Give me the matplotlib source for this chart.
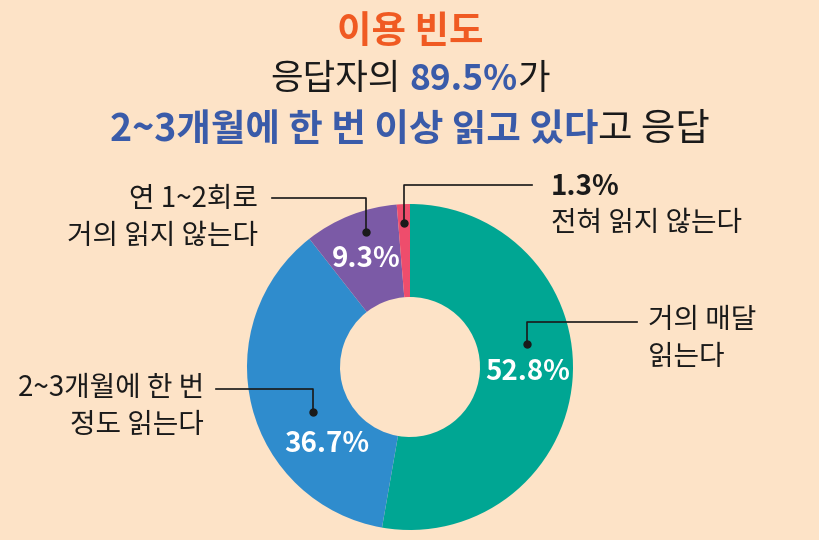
import numpy as np
import matplotlib.pyplot as plt

plt.rcParams['font.family'] = ['Noto Sans CJK KR', 'DejaVu Sans']

# data
values = [52.8, 36.7, 9.3, 1.3]
colors = ['#00A693', '#2F8CCD', '#7B5AA6', '#EE4D6C']
pct_labels = ['52.8%', '36.7%', '9.3%', '']
cat_lines = [['거의 매달', '읽는다'],
             ['2~3개월에 한 번', '정도 읽는다'],
             ['연 1~2회로', '거의 읽지 않는다'],
             ['1.3%', '전혀 읽지 않는다']]

BG = '#FDE3C7'
BLUE = '#3A5BA9'
ORANGE = '#F05A22'

fig = plt.figure(figsize=(8.2, 5.4), dpi=100, facecolor=BG)
ax = fig.add_axes([0, 0, 1, 1])
ax.set_facecolor(BG)


def Y(y):
    # image row -> plot y
    return 540 - y


# donut
cx, cy, r_out, r_in = 410, 367, 163, 70
ax.pie(values, colors=colors, startangle=90, counterclock=False,
       center=(cx, Y(cy)), radius=r_out, frame=True,
       wedgeprops=dict(width=r_out - r_in, linewidth=0))
ax.set_xlim(0, 820)
ax.set_ylim(0, 540)
ax.axis('off')

# percent labels inside the ring
pct_pos = [(528, 372), (327, 444), (366, 259)]
for lab, (px, py) in zip(pct_labels, pct_pos):
    ax.text(px, Y(py), lab, color='white', fontsize=20, fontweight='bold',
            ha='center', va='center')

# title lines
ax.text(410, Y(31), '이용 빈도', color=ORANGE, fontsize=27, fontweight='bold',
        ha='center', va='center')

renderer = fig.canvas.get_renderer()


def mixed_line(pieces, y, size):
    objs = []
    x = 0
    for txt, col, wt, gap in pieces:
        x += gap
        t = ax.text(x, Y(y), txt, color=col, fontsize=size, fontweight=wt,
                    ha='left', va='center')
        w = t.get_window_extent(renderer).width
        objs.append((t, x))
        x += w
    off = 410 - x / 2
    for t, x0 in objs:
        t.set_x(x0 + off)


mixed_line([('응답자의', '#1a1a1a', 'normal', 0),
            ('89.5%', BLUE, 'bold', 9),
            ('가', '#1a1a1a', 'normal', 0)], 79, 25.5)
mixed_line([('2~3개월에 한 번 이상 읽고 있다', BLUE, 'bold', 0),
            ('고 응답', '#1a1a1a', 'normal', 0)], 129, 27)

# category labels
lsz = 20
tc = '#1a1a1a'
# 52.8%
ax.text(648, Y(320), cat_lines[0][0], fontsize=lsz, color=tc, ha='left', va='center')
ax.text(648, Y(357), cat_lines[0][1], fontsize=lsz, color=tc, ha='left', va='center')
ax.plot([637, 527, 527], [Y(322), Y(322), Y(344)], color=tc, lw=1.2)
ax.plot(527, Y(344), 'o', color=tc, ms=5)
# 36.7%
ax.text(204, Y(388), cat_lines[1][0], fontsize=lsz, color=tc, ha='right', va='center')
ax.text(204, Y(425), cat_lines[1][1], fontsize=lsz, color=tc, ha='right', va='center')
ax.plot([216, 313, 313], [Y(389), Y(389), Y(412)], color=tc, lw=1.2)
ax.plot(313, Y(412), 'o', color=tc, ms=5)
# 9.3%
ax.text(258, Y(199), cat_lines[2][0], fontsize=lsz, color=tc, ha='right', va='center')
ax.text(258, Y(236), cat_lines[2][1], fontsize=lsz, color=tc, ha='right', va='center')
ax.plot([272, 366, 366], [Y(198), Y(198), Y(232)], color=tc, lw=1.2)
ax.plot(366, Y(232), 'o', color=tc, ms=5)
# 1.3%
ax.text(551, Y(187), cat_lines[3][0], fontsize=lsz, color=tc, fontweight='bold',
        ha='left', va='center')
ax.text(551, Y(223), cat_lines[3][1], fontsize=lsz, color=tc, ha='left', va='center')
ax.plot([532, 404, 404], [Y(185), Y(185), Y(223)], color=tc, lw=1.2)
ax.plot(404, Y(223), 'o', color=tc, ms=5)

fig.savefig('out.png', dpi=100, facecolor=BG)
